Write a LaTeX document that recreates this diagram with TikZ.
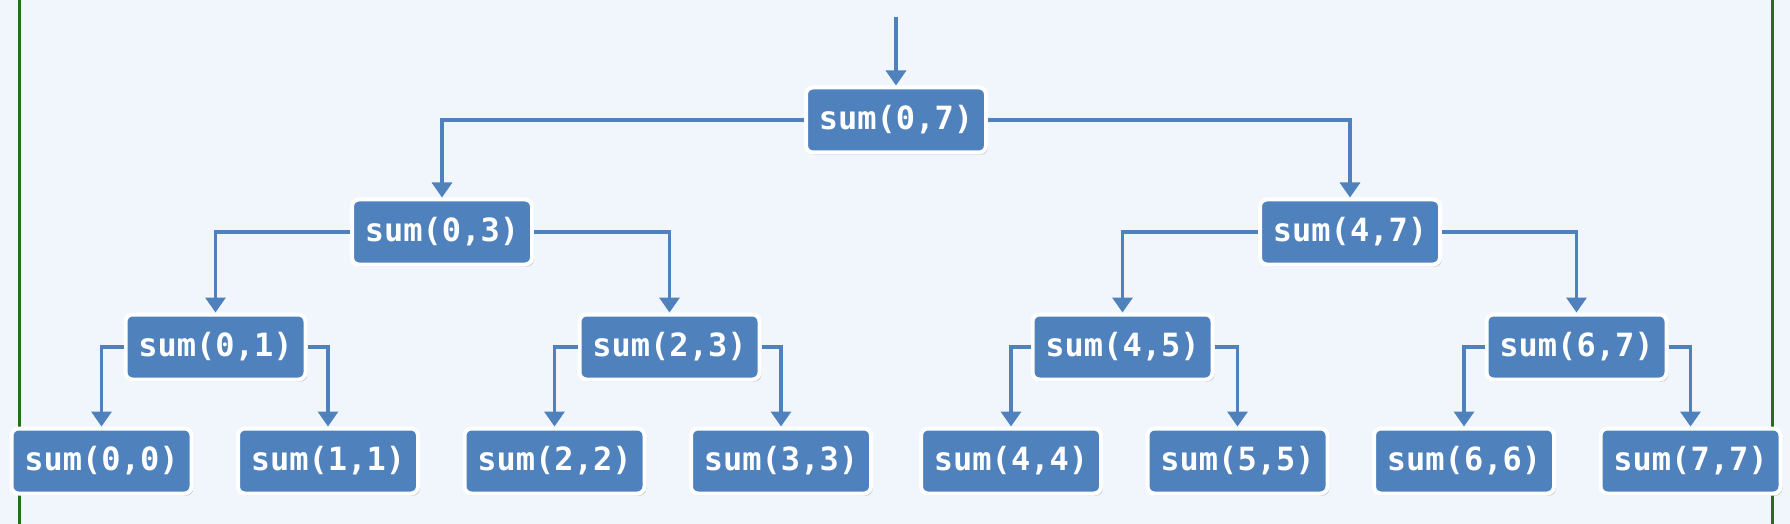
\documentclass[tikz,border=0pt]{standalone}
\usepackage{fontspec}
\setmonofont{DejaVu Sans Mono}
\usepackage{xcolor}
\usepackage{tikz}
\usetikzlibrary{arrows.meta,positioning,shadows}

\definecolor{boxblue}{RGB}{79,129,189}
\definecolor{paneback}{RGB}{241,246,252}
\definecolor{framegreen}{RGB}{38,110,30}

\begin{document}
\begin{tikzpicture}[
  x=0.5pt, y=-0.5pt,
  sumbox/.style={rounded corners=3.5pt, draw=white, line width=2pt, fill=boxblue, text=white, font=\ttfamily\bfseries\fontsize{16}{18}\selectfont, minimum width=90pt, minimum height=32.5pt, inner sep=0pt, drop shadow={shadow xshift=0.9pt, shadow yshift=-1.1pt, opacity=0.35, fill=black!55}},
  arrow/.style={-{Triangle[length=7.5pt,width=10pt]}, line width=1.7pt, draw=boxblue}
]
  % backdrop and side rules
  \fill[paneback] (0,0) rectangle (1790,524);
  \useasboundingbox (0,0) rectangle (1790,524);
  \draw[framegreen, line width=1.5pt] (19,0) -- (19,524);
  \draw[framegreen, line width=1.5pt] (1772,0) -- (1772,524);

  % Root and first split
  \coordinate (entry) at (896,17);
  \node[sumbox] (s07) at (896,120) {sum(0,7)};
  \node[sumbox] (s03) at (442,232) {sum(0,3)};
  \node[sumbox] (s47) at (1350,232) {sum(4,7)};

  % Second split
  \node[sumbox] (s01) at (215.5,347) {sum(0,1)};
  \node[sumbox] (s23) at (669.5,347) {sum(2,3)};
  \node[sumbox] (s45) at (1122.5,347) {sum(4,5)};
  \node[sumbox] (s67) at (1576.5,347) {sum(6,7)};

  % Leaves
  \node[sumbox] (s00) at (101.5,461) {sum(0,0)};
  \node[sumbox] (s11) at (328,461) {sum(1,1)};
  \node[sumbox] (s22) at (554.5,461) {sum(2,2)};
  \node[sumbox] (s33) at (781,461) {sum(3,3)};
  \node[sumbox] (s44) at (1011,461) {sum(4,4)};
  \node[sumbox] (s55) at (1237.5,461) {sum(5,5)};
  \node[sumbox] (s66) at (1464,461) {sum(6,6)};
  \node[sumbox] (s77) at (1690.5,461) {sum(7,7)};

  \draw[arrow] (entry) -- (s07.north);

  \draw[arrow] (s07.west) -| (s03.north);
  \draw[arrow] (s07.east) -| (s47.north);

  \draw[arrow] (s03.west) -| (s01.north);
  \draw[arrow] (s03.east) -| (s23.north);
  \draw[arrow] (s47.west) -| (s45.north);
  \draw[arrow] (s47.east) -| (s67.north);

  \draw[arrow] (s01.west) -| (s00.north);
  \draw[arrow] (s01.east) -| (s11.north);
  \draw[arrow] (s23.west) -| (s22.north);
  \draw[arrow] (s23.east) -| (s33.north);
  \draw[arrow] (s45.west) -| (s44.north);
  \draw[arrow] (s45.east) -| (s55.north);
  \draw[arrow] (s67.west) -| (s66.north);
  \draw[arrow] (s67.east) -| (s77.north);
\end{tikzpicture}
\end{document}
